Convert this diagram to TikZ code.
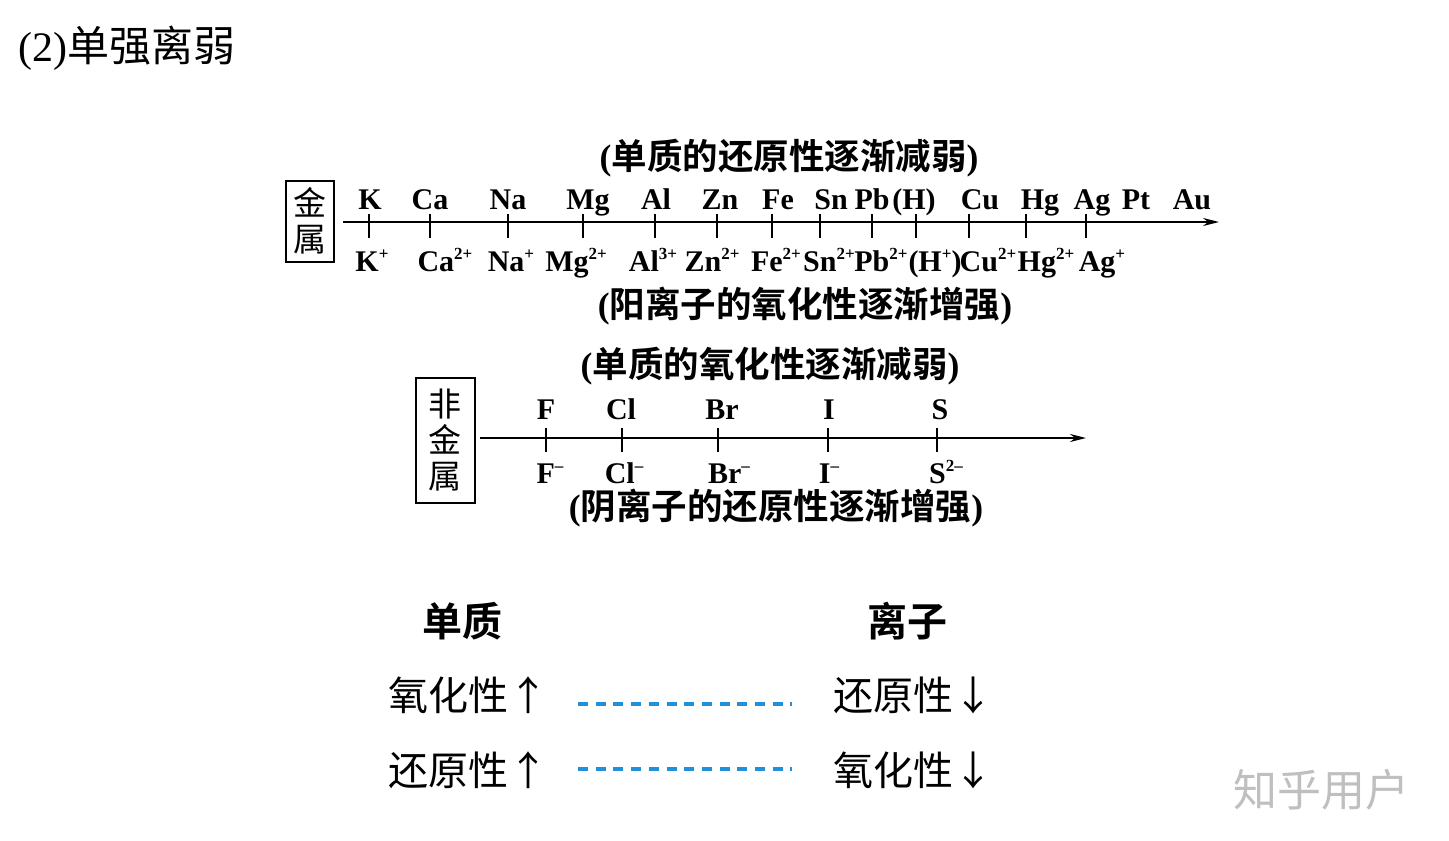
\documentclass[tikz,border=0pt]{standalone}
\usepackage{fontspec}
\setmainfont{Liberation Serif}
\newfontfamily\cjk{Noto Sans CJK SC}[BoldFont={Noto Sans CJK SC Bold}]
\usepackage{xcolor}
\usepackage{tikz}
\usetikzlibrary{arrows.meta,positioning}
\definecolor{linkblue}{RGB}{30,144,220}
\newcommand{\sps}[1]{\raisebox{0.4em}{\fontsize{17}{17}\selectfont #1}}

\begin{document}
\begin{tikzpicture}[x=1pt,y=-1pt]
	\tikzstyle{elem}=[font=\fontsize{30}{32}\selectfont\bfseries, inner sep=0pt, anchor=base]
	\tikzstyle{hint}=[font=\fontsize{35.5}{37}\selectfont\bfseries, inner sep=0pt]
	\tikzstyle{kind}=[draw, line width=2pt, inner sep=0pt, align=center, font=\cjk\fontsize{33}{36}\selectfont]
	\tikzstyle{axis}=[line width=2pt, -{Stealth[length=16pt,width=8pt]}]
	\tikzstyle{notch}=[line width=1.6pt]
	\tikzstyle{word}=[font=\cjk\fontsize{40}{42}\selectfont, inner sep=0pt, anchor=west]
	\tikzstyle{head}=[font=\cjk\bfseries\fontsize{40}{42}\selectfont, inner sep=0pt]
	\tikzstyle{link}=[line width=3.5pt, dash pattern=on 10pt off 7.7pt, linkblue]
	\useasboundingbox (0,0) rectangle (1449,841);

	% title
	\node[anchor=west, inner sep=0pt] (title) at (18,48) {\fontsize{42}{44}\selectfont(2){\cjk 单强离弱}};

	% metals
	\node[hint] (mtop) at (789,158) {({\cjk 单质的还原性逐渐减弱})};
	\node[kind, minimum width=48pt, minimum height=81pt] (metal) at (310,221) {金\\属};
	\coordinate (ma) at (343,222);
	\coordinate (mb) at (1219,222);
	\draw[axis] (ma) -- (mb);
	\foreach \x [count=\i] in {369,430,508,583,655,717,772,820,872,916,969,1026,1086} {
		\coordinate (mt\i) at (\x,222);
		\draw[notch] ([yshift=8pt]mt\i) -- ([yshift=-16pt]mt\i);
	}
	\foreach \x/\t [count=\i] in {370/K,430/Ca,508/Na,588/Mg,656/Al,720/Zn,778/Fe,831/Sn,872/Pb,914/(H),980/Cu,1040/Hg,1092/Ag,1136/Pt,1192/Au}
		\node[elem] (me\i) at (\x,209) {\t};
	\foreach \x/\t [count=\i] in {372/K\sps{+},445/Ca\sps{2+},511/Na\sps{+},576/Mg\sps{2+},653/Al\sps{3+},712/Zn\sps{2+},776/Fe\sps{2+},829/Sn\sps{2+},881/Pb\sps{2+},935/(H\sps{+}),988/Cu\sps{2+},1046/Hg\sps{2+},1102/Ag\sps{+}}
		\node[elem] (mi\i) at (\x,271) {\t};
	\node[hint] (mbot) at (805,306) {({\cjk 阳离子的氧化性逐渐增强})};

	% non-metals
	\node[hint] (ntop) at (770,366) {({\cjk 单质的氧化性逐渐减弱})};
	\node[kind, minimum width=59pt, minimum height=125pt] (nonmetal) at (445,440) {非\\金\\属};
	\coordinate (na) at (480,438);
	\coordinate (nb) at (1086,438);
	\draw[axis] (na) -- (nb);
	\foreach \x [count=\i] in {546,622,718,828,937} {
		\coordinate (nt\i) at (\x,438);
		\draw[notch] ([yshift=10pt]nt\i) -- ([yshift=-14pt]nt\i);
	}
	\foreach \x/\t [count=\i] in {546/F,621/Cl,722/Br,829/I,940/S}
		\node[elem] (ne\i) at (\x,419) {\t};
	\foreach \x/\t [count=\i] in {550/F\sps{--},624/Cl\sps{--},729/Br\sps{--},829/I\sps{--},946/S\sps{2--}}
		\node[elem] (ni\i) at (\x,483) {\t};
	\node[hint] (nbot) at (776,508) {({\cjk 阴离子的还原性逐渐增强})};

	% summary
	\node[head] (simple) at (462,621) {单质};
	\node[head] (charged) at (907,621) {离子};
	\node[word] (ox1) at (388,695) {氧化性↑};
	\node[word] (re1) at (833,695) {还原性↓};
	\node[word] (re2) at (388,770) {还原性↑};
	\node[word] (ox2) at (833,770) {氧化性↓};
	\coordinate (d1a) at (578,704);
	\coordinate (d1b) at (792,704);
	\coordinate (d2a) at (578,769);
	\coordinate (d2b) at (792,769);
	\draw[link] (d1a) -- (d1b);
	\draw[link] (d2a) -- (d2b);

	\node[font=\cjk\fontsize{44}{46}\selectfont, text=gray!50, inner sep=0pt] (zhihu) at (1321,790) {知乎用户};
\end{tikzpicture}
\end{document}
